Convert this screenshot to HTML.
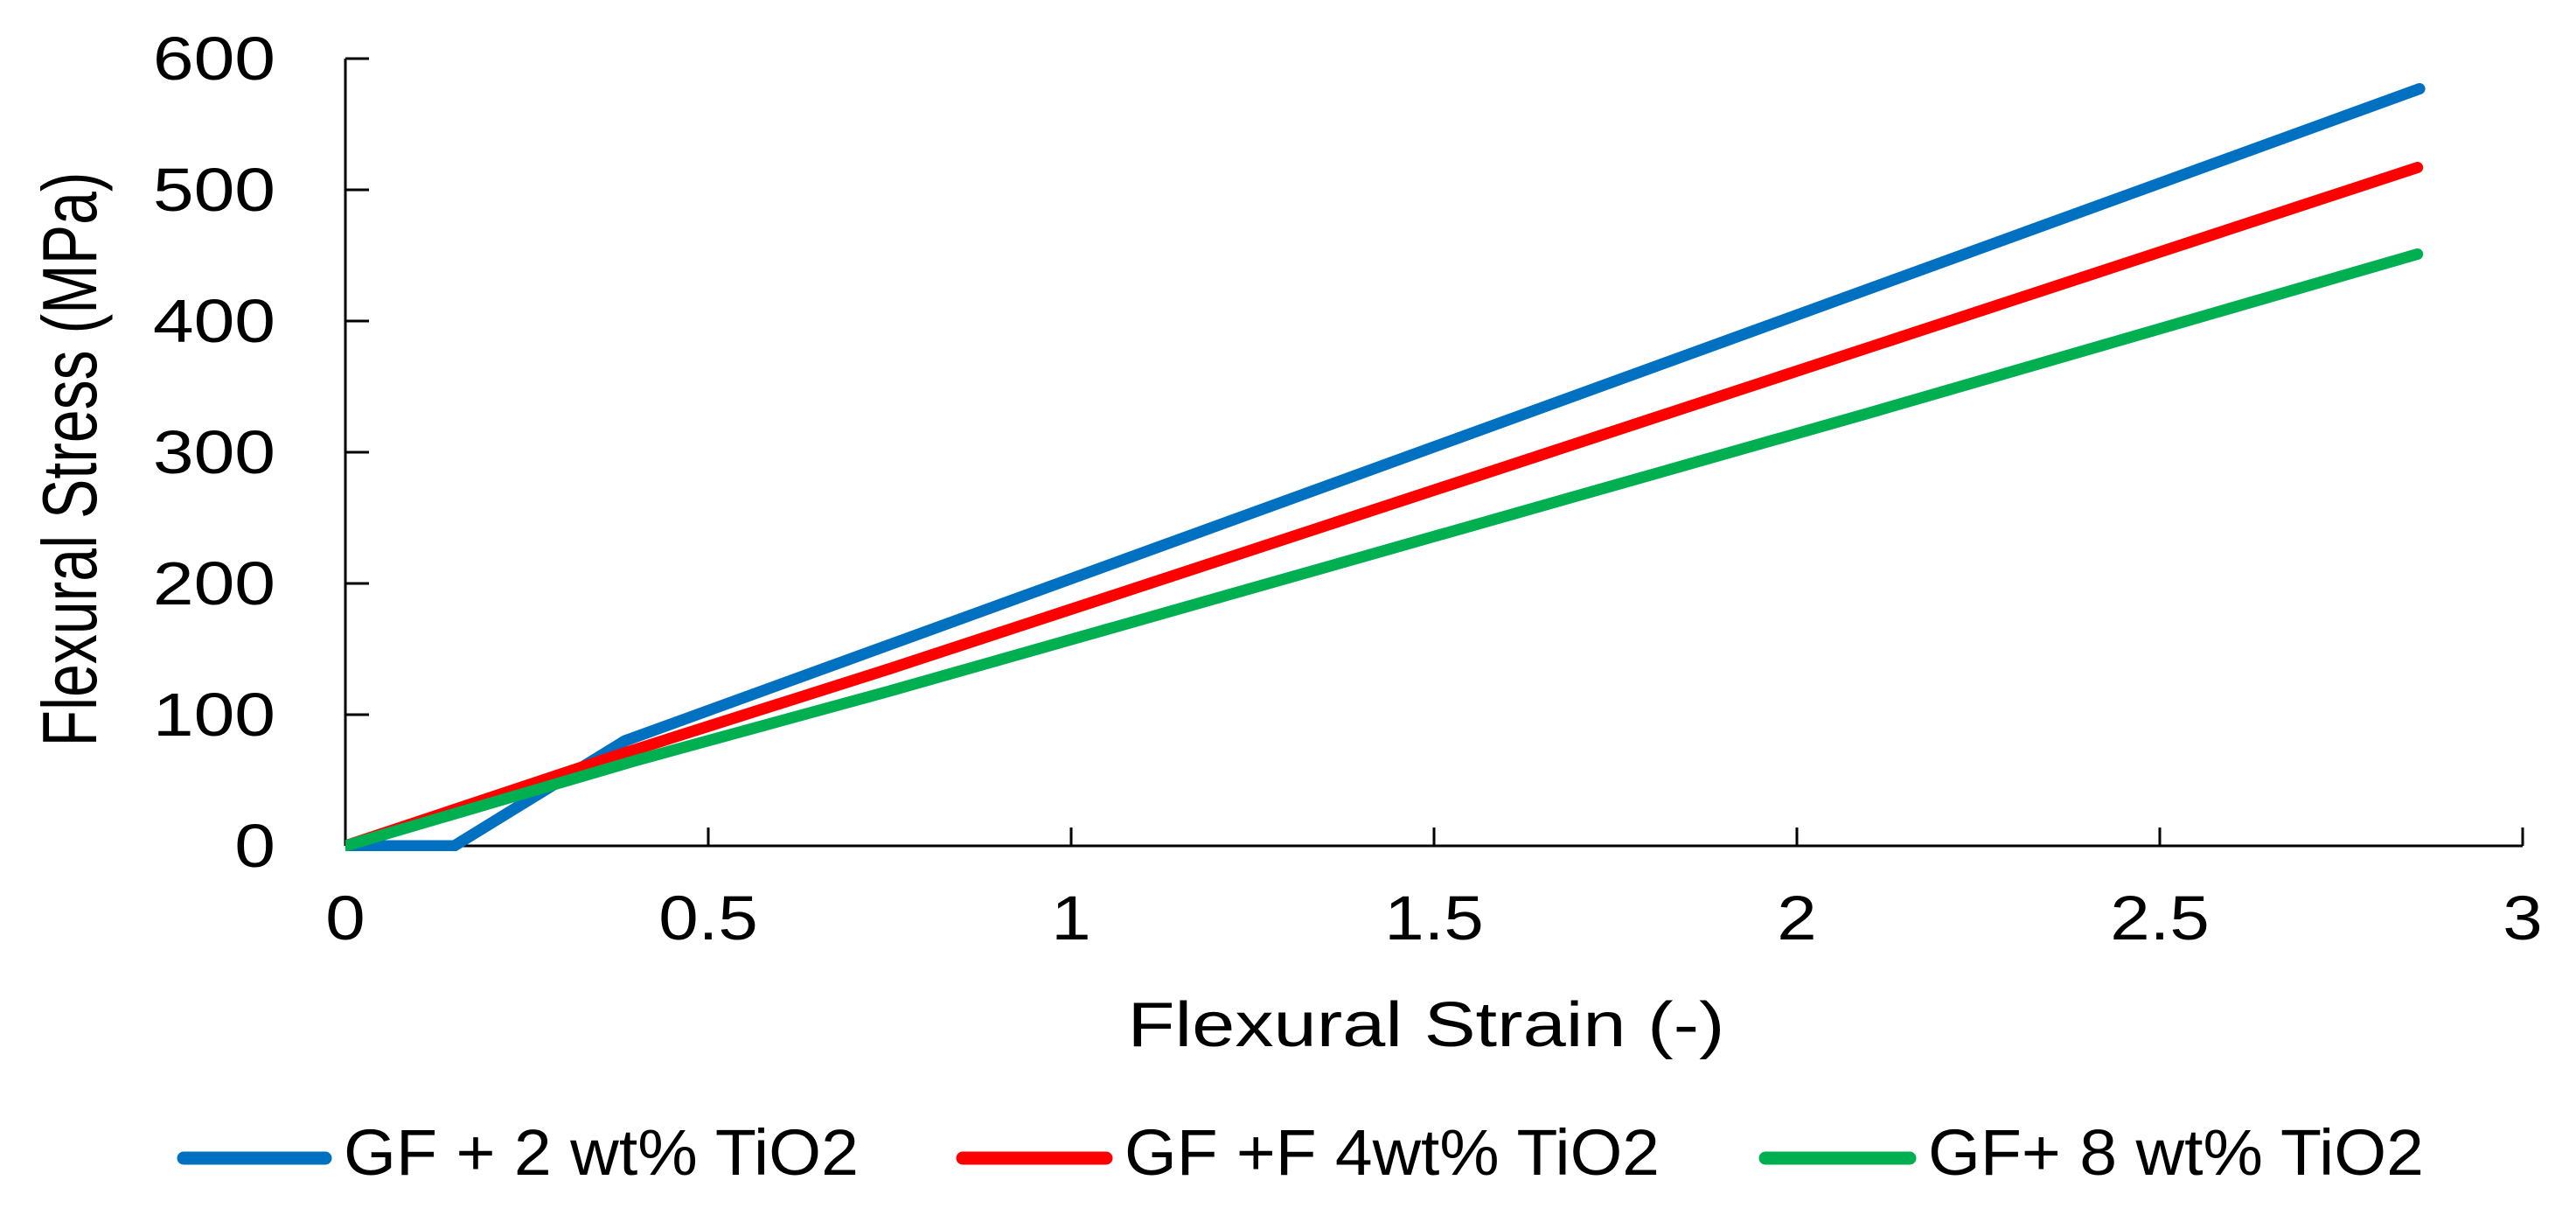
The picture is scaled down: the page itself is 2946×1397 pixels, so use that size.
<!DOCTYPE html>
<html><head><meta charset="utf-8"><style>
html,body{margin:0;padding:0;background:#fff}
svg{display:block}
text{font-family:"Liberation Sans",Arial,sans-serif;fill:#000}
</style></head><body>
<svg id="chart" width="2946" height="1397" viewBox="0 0 2946 1397" xmlns="http://www.w3.org/2000/svg">
<rect width="2946" height="1397" fill="#fff"/>
<g id="axes"></g>
<g id="series"></g>
<text transform="translate(110,525) rotate(-90)" text-anchor="middle" font-size="88" textLength="657" lengthAdjust="spacingAndGlyphs">Flexural Stress (MPa)</text>
<text x="1631" y="1196" text-anchor="middle" font-size="72" textLength="683" lengthAdjust="spacingAndGlyphs">Flexural Strain (-)</text>
<g>
 <g>
  <line x1="210" y1="1324" x2="372" y2="1324" stroke="#0070C0" stroke-width="15" stroke-linecap="round"/>
  <text x="393" y="1343" font-size="74" textLength="589" lengthAdjust="spacingAndGlyphs">GF + 2 wt% TiO2</text>
 </g>
 <g>
  <line x1="1101" y1="1324" x2="1265" y2="1324" stroke="#FF0000" stroke-width="15" stroke-linecap="round"/>
  <text x="1286" y="1343" font-size="74" textLength="612" lengthAdjust="spacingAndGlyphs">GF +F 4wt% TiO2</text>
 </g>
 <g>
  <line x1="2019" y1="1324" x2="2184" y2="1324" stroke="#00B050" stroke-width="15" stroke-linecap="round"/>
  <text x="2205" y="1343" font-size="74" textLength="567" lengthAdjust="spacingAndGlyphs">GF+ 8 wt% TiO2</text>
 </g>
</g>
</svg>
<script>
const xTicks = [0, 0.5, 1, 1.5, 2, 2.5, 3];
const xTickLabels = ["0", "0.5", "1", "1.5", "2", "2.5", "3"];
const yTicks = [0, 100, 200, 300, 400, 500, 600];
const yTickLabels = ["0", "100", "200", "300", "400", "500", "600"];
const seriesNames = ["GF + 2 wt% TiO2", "GF +F 4wt% TiO2", "GF+ 8 wt% TiO2"];
const blueX = [0, 0.15, 0.385, 2.858];
const blueY = [0, 0, 80, 577];
const redX = [0, 0.38, 0.75, 2.1, 2.855];
const redY = [0, 70, 135, 380, 517];
const greenX = [0, 0.4, 0.75, 2.1, 2.855];
const greenY = [0, 65, 118, 330, 451];

const NS = "http://www.w3.org/2000/svg";
const X0 = 395, X1 = 2885, Y0 = 967, Y1 = 67;
function sx(v){ return X0 + (v - 0) / 3 * (X1 - X0); }
function sy(v){ return Y0 - v / 600 * (Y0 - Y1); }
function mk(tag, attrs, parent){ const e = document.createElementNS(NS, tag); for (const k in attrs) e.setAttribute(k, attrs[k]); parent.appendChild(e); return e; }

const axes = document.getElementById('axes');
const yAxis = mk('line', {x1: X0, y1: sy(600), x2: X0, y2: Y0, stroke: '#000', 'stroke-width': 3}, axes);


const xAxis = mk('line', {x1: X0, y1: Y0, x2: sx(3), y2: Y0, stroke: '#000', 'stroke-width': 3}, axes);



yTicks.forEach((v, i) => {
  const t = mk('line', {x1: X0, y1: sy(v), x2: X0 + 27, y2: sy(v), stroke: '#000', 'stroke-width': 3}, axes);
  
  
  const lb = mk('text', {transform: 'translate(315,' + (sy(v) + 24) + ') scale(1.2,1)', 'text-anchor': 'end', 'font-size': 70}, axes);
  lb.textContent = yTickLabels[i];
  
  
});
xTicks.forEach((v, i) => {
  if (i > 0) {
    const t = mk('line', {x1: sx(v), y1: Y0, x2: sx(v), y2: Y0 - 21, stroke: '#000', 'stroke-width': 3}, axes);
    
    
  }
  const lb = mk('text', {transform: 'translate(' + sx(v) + ',1074) scale(1.15,1)', 'text-anchor': 'middle', 'font-size': 71}, axes);
  lb.textContent = xTickLabels[i];
  
  
});

const ser = document.getElementById('series');
const clip = mk('clipPath', {id: 'plotclip'}, ser);
mk('rect', {x: X0, y: 0, width: 2600, height: Y0 + 6}, clip);
function drawSeries(xs, ys, color, name){
  const pts = xs.map((x, i) => sx(x).toFixed(1) + ',' + sy(ys[i]).toFixed(1)).join(' ');
  const p = mk('polyline', {points: pts, fill: 'none', stroke: color, 'stroke-width': 13, 'stroke-linecap': 'round', 'stroke-linejoin': 'round', 'clip-path': 'url(#plotclip)'}, ser);
  
  
}
drawSeries(blueX, blueY, '#0070C0', 'series-2wt-tio2');
drawSeries(redX, redY, '#FF0000', 'series-4wt-tio2');
drawSeries(greenX, greenY, '#00B050', 'series-8wt-tio2');
</script>
</body></html>
